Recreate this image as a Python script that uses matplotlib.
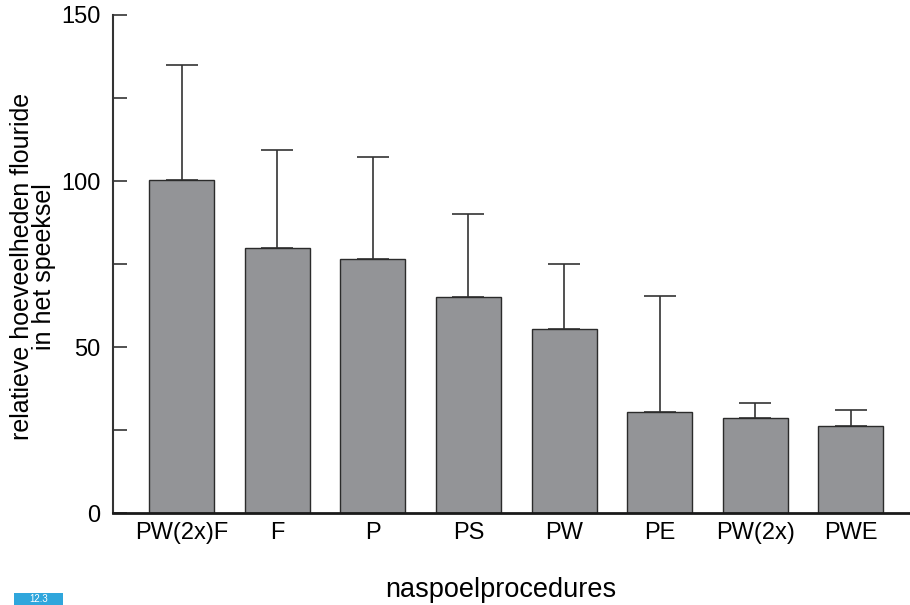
import matplotlib
matplotlib.use("Agg")
import matplotlib.pyplot as plt
from matplotlib.patches import Rectangle
import numpy as np

categories = ["PW(2x)F", "F", "P", "PS", "PW", "PE", "PW(2x)", "PWE"]
means = [100.3, 79.8, 76.5, 65.2, 55.4, 30.5, 28.8, 26.4]
upper = [134.9, 109.5, 107.4, 90.1, 75.1, 65.5, 33.3, 31.2]
yticks_major = [0, 50, 100, 150]
yticks_minor = [25, 75, 125]

plt.rcParams['font.family'] = ['Liberation Sans', 'DejaVu Sans']

fig = plt.figure(figsize=(9.1, 6.05), dpi=100)
ax = fig.add_axes([113/910, 1-513.3/605, 1-113/910, (513.3-15)/605])

x = np.arange(len(categories))
err = np.array(upper) - np.array(means)
ax.bar(x, means, width=0.68, color="#939497", edgecolor="#2b2b2b", linewidth=1.0, zorder=2)
ax.errorbar(x, means, yerr=[np.zeros_like(err), err], fmt='none', ecolor="#333333",
            elinewidth=1.2, capsize=11.5, capthick=1.2, zorder=1)

ax.set_xlim(-0.72, 7.62)
ax.set_ylim(0, 150)
ax.set_yticks(yticks_major)
ax.set_yticks(yticks_minor, minor=True)
ax.tick_params(axis='y', which='both', direction='in', length=10, width=1.2,
               color="#333333", labelsize=17, pad=9)
ax.tick_params(axis='y', which='minor', labelleft=False)
ax.set_xticks(x)
ax.set_xticklabels(categories)
ax.tick_params(axis='x', length=0, labelsize=17, pad=6)

for s in ['top', 'right']:
    ax.spines[s].set_visible(False)
ax.spines['left'].set_color("#333333")
ax.spines['left'].set_linewidth(1.5)
ax.spines['bottom'].set_color("#1a1a1a")
ax.spines['bottom'].set_linewidth(2.0)

fig.text(33/910, 1-266.5/605, "relatieve hoeveelheden flouride\nin het speeksel",
         rotation=90, ha='center', va='center', fontsize=18, linespacing=0.92)
fig.text(501/910, 1-590/605, "naspoelprocedures", ha='center', va='center', fontsize=19.5)

fig.patches.append(Rectangle((14/910, 0), 49/910, 12/605, transform=fig.transFigure,
                             facecolor='#2fa6dc', edgecolor='none'))
fig.text(38.5/910, 6/605, "12.3", ha='center', va='center', fontsize=7, color='white')

fig.savefig("out.png", dpi=100)
